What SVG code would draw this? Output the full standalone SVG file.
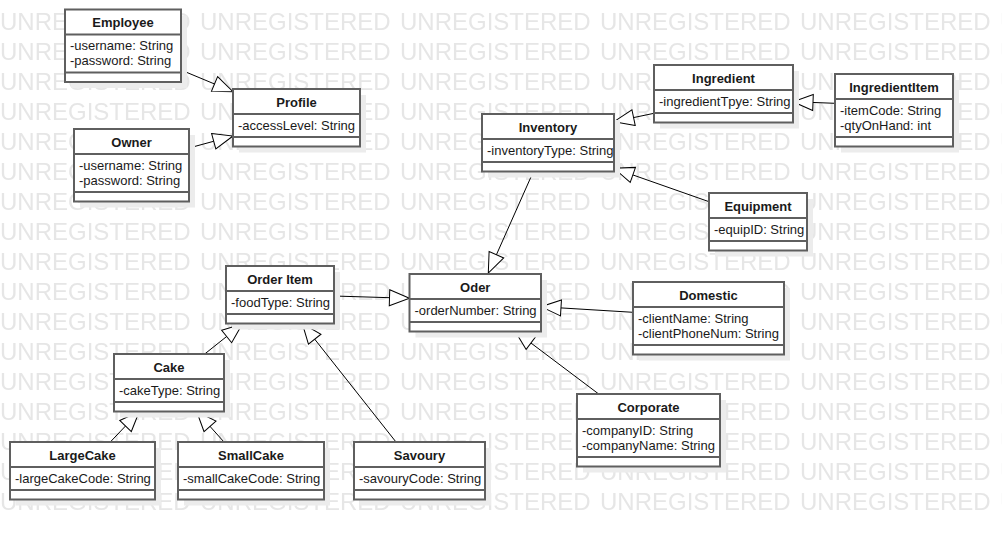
<svg xmlns="http://www.w3.org/2000/svg" width="1002" height="539" viewBox="0 0 1002 539">
<style>
.sh{fill:#ececec}
.bx{fill:#fff;stroke:#5f5f5f;stroke-width:2}
.dv{stroke:#5f5f5f;stroke-width:2}
.t{font-family:"Liberation Sans",Arial,sans-serif;font-size:13px;font-weight:bold;fill:#1a1a1a;text-anchor:middle}
.a{font-family:"Liberation Sans",Arial,sans-serif;font-size:13px;fill:#1a1a1a}
.wm{font-family:"Liberation Sans",Arial,sans-serif;font-size:24px;fill:#e6e6e6}
.c{stroke:#000;stroke-width:1;fill:none}
</style>
<defs>
<pattern id="wmp" patternUnits="userSpaceOnUse" x="0" y="0" width="200" height="30">
<text class="wm" x="0" y="29.5">UNREGISTERED</text>
</pattern>
<marker id="gen" markerUnits="userSpaceOnUse" markerWidth="24" markerHeight="20" viewBox="-2 -2 24 20" refX="20" refY="8" orient="auto">
<path d="M0,0 L20,8 L0,16 Z" fill="#fff" stroke="#000" stroke-width="1"/>
</marker>
</defs>
<rect width="1002" height="539" fill="#fff"/>
<rect x="0" y="0" width="1002" height="511" fill="url(#wmp)"/>

<g id="connectors">
<path class="c" marker-end="url(#gen)" d="M181,70 L233,91.7"/>
<path class="c" marker-end="url(#gen)" d="M189,148 L233,136"/>
<path class="c" marker-end="url(#gen)" d="M654,113.3 L614,121.7"/>
<path class="c" marker-end="url(#gen)" d="M835,103.3 L793,101.7"/>
<path class="c" marker-end="url(#gen)" d="M709,201.7 L614,168.3"/>
<path class="c" marker-end="url(#gen)" d="M533.3,171.7 L488.3,273"/>
<path class="c" marker-end="url(#gen)" d="M334,296 L409.5,298.3"/>
<path class="c" marker-end="url(#gen)" d="M204.7,354 L242.3,324"/>
<path class="c" marker-end="url(#gen)" d="M396,442 L302.3,323.5"/>
<path class="c" marker-end="url(#gen)" d="M110.3,442 L139.3,411.5"/>
<path class="c" marker-end="url(#gen)" d="M224,442 L196.7,411.5"/>
<path class="c" marker-end="url(#gen)" d="M633,312.3 L541,306.7"/>
<path class="c" marker-end="url(#gen)" d="M598.7,394 L515,331"/>
</g>

<g id="employee">
<rect class="sh" x="71" y="15.5" width="116" height="72.5"/>
<rect class="bx" x="65" y="9.5" width="116" height="72.5"/>
<line class="dv" x1="65" y1="34.5" x2="181" y2="34.5"/>
<line class="dv" x1="65" y1="72.5" x2="181" y2="72.5"/>
<text class="t" x="123" y="27">Employee</text>
<text class="a" x="70" y="50">-username: String</text>
<text class="a" x="70" y="65">-password: String</text>
</g>

<g id="profile">
<rect class="sh" x="239" y="95" width="127" height="57.5"/>
<rect class="bx" x="233" y="89" width="127" height="57.5"/>
<line class="dv" x1="233" y1="114" x2="360" y2="114"/>
<line class="dv" x1="233" y1="137" x2="360" y2="137"/>
<text class="t" x="296.5" y="106.5">Profile</text>
<text class="a" x="238" y="129.5">-accessLevel: String</text>
</g>

<g id="owner">
<rect class="sh" x="80" y="135" width="115" height="72.5"/>
<rect class="bx" x="74" y="129" width="115" height="72.5"/>
<line class="dv" x1="74" y1="154" x2="189" y2="154"/>
<line class="dv" x1="74" y1="192" x2="189" y2="192"/>
<text class="t" x="131.5" y="146.5">Owner</text>
<text class="a" x="79" y="169.5">-username: String</text>
<text class="a" x="79" y="184.5">-password: String</text>
</g>

<g id="ingredient">
<rect class="sh" x="660" y="71" width="139" height="57.5"/>
<rect class="bx" x="654" y="65" width="139" height="57.5"/>
<line class="dv" x1="654" y1="90" x2="793" y2="90"/>
<line class="dv" x1="654" y1="113" x2="793" y2="113"/>
<text class="t" x="723.5" y="82.5">Ingredient</text>
<text class="a" x="659" y="105.5">-ingredientTpye: String</text>
</g>

<g id="ingredientitem">
<rect class="sh" x="841" y="80" width="118" height="72.5"/>
<rect class="bx" x="835" y="74" width="118" height="72.5"/>
<line class="dv" x1="835" y1="99" x2="953" y2="99"/>
<line class="dv" x1="835" y1="137" x2="953" y2="137"/>
<text class="t" x="894" y="91.5">IngredientItem</text>
<text class="a" x="840" y="114.5">-itemCode: String</text>
<text class="a" x="840" y="129.5">-qtyOnHand: int</text>
</g>

<g id="inventory">
<rect class="sh" x="488" y="120" width="132" height="57.5"/>
<rect class="bx" x="482" y="114" width="132" height="57.5"/>
<line class="dv" x1="482" y1="139" x2="614" y2="139"/>
<line class="dv" x1="482" y1="162" x2="614" y2="162"/>
<text class="t" x="548" y="131.5">Inventory</text>
<text class="a" x="487" y="154.5">-inventoryType: String</text>
</g>

<g id="equipment">
<rect class="sh" x="715" y="199" width="98" height="57.5"/>
<rect class="bx" x="709" y="193" width="98" height="57.5"/>
<line class="dv" x1="709" y1="218" x2="807" y2="218"/>
<line class="dv" x1="709" y1="241" x2="807" y2="241"/>
<text class="t" x="758" y="210.5">Equipment</text>
<text class="a" x="714" y="233.5">-equipID: String</text>
</g>

<g id="orderitem">
<rect class="sh" x="232" y="272" width="108" height="57.5"/>
<rect class="bx" x="226" y="266" width="108" height="57.5"/>
<line class="dv" x1="226" y1="291" x2="334" y2="291"/>
<line class="dv" x1="226" y1="314" x2="334" y2="314"/>
<text class="t" x="280" y="283.5">Order Item</text>
<text class="a" x="231" y="306.5">-foodType: String</text>
</g>

<g id="oder">
<rect class="sh" x="415.5" y="280" width="131.5" height="57.5"/>
<rect class="bx" x="409.5" y="274" width="131.5" height="57.5"/>
<line class="dv" x1="409.5" y1="299" x2="541" y2="299"/>
<line class="dv" x1="409.5" y1="322" x2="541" y2="322"/>
<text class="t" x="475.25" y="291.5">Oder</text>
<text class="a" x="414.5" y="314.5">-orderNumber: String</text>
</g>

<g id="cake">
<rect class="sh" x="120" y="360" width="110" height="57.5"/>
<rect class="bx" x="114" y="354" width="110" height="57.5"/>
<line class="dv" x1="114" y1="379" x2="224" y2="379"/>
<line class="dv" x1="114" y1="402" x2="224" y2="402"/>
<text class="t" x="169" y="371.5">Cake</text>
<text class="a" x="119" y="394.5">-cakeType: String</text>
</g>

<g id="largecake">
<rect class="sh" x="16" y="448" width="145" height="57.5"/>
<rect class="bx" x="10" y="442" width="145" height="57.5"/>
<line class="dv" x1="10" y1="467" x2="155" y2="467"/>
<line class="dv" x1="10" y1="490" x2="155" y2="490"/>
<text class="t" x="82.5" y="459.5">LargeCake</text>
<text class="a" x="15" y="482.5">-largeCakeCode: String</text>
</g>

<g id="smallcake">
<rect class="sh" x="184" y="448" width="146" height="57.5"/>
<rect class="bx" x="178" y="442" width="146" height="57.5"/>
<line class="dv" x1="178" y1="467" x2="324" y2="467"/>
<line class="dv" x1="178" y1="490" x2="324" y2="490"/>
<text class="t" x="251" y="459.5">SmallCake</text>
<text class="a" x="183" y="482.5">-smallCakeCode: String</text>
</g>

<g id="savoury">
<rect class="sh" x="360" y="448" width="131" height="57.5"/>
<rect class="bx" x="354" y="442" width="131" height="57.5"/>
<line class="dv" x1="354" y1="467" x2="485" y2="467"/>
<line class="dv" x1="354" y1="490" x2="485" y2="490"/>
<text class="t" x="419.5" y="459.5">Savoury</text>
<text class="a" x="359" y="482.5">-savouryCode: String</text>
</g>

<g id="domestic">
<rect class="sh" x="639" y="288" width="151" height="72.5"/>
<rect class="bx" x="633" y="282" width="151" height="72.5"/>
<line class="dv" x1="633" y1="307" x2="784" y2="307"/>
<line class="dv" x1="633" y1="345" x2="784" y2="345"/>
<text class="t" x="708.5" y="299.5">Domestic</text>
<text class="a" x="638" y="322.5">-clientName: String</text>
<text class="a" x="638" y="337.5">-clientPhoneNum: String</text>
</g>

<g id="corporate">
<rect class="sh" x="583" y="400" width="143" height="72.5"/>
<rect class="bx" x="577" y="394" width="143" height="72.5"/>
<line class="dv" x1="577" y1="419" x2="720" y2="419"/>
<line class="dv" x1="577" y1="457" x2="720" y2="457"/>
<text class="t" x="648.5" y="411.5">Corporate</text>
<text class="a" x="582" y="434.5">-companyID: String</text>
<text class="a" x="582" y="449.5">-companyName: String</text>
</g>
</svg>
